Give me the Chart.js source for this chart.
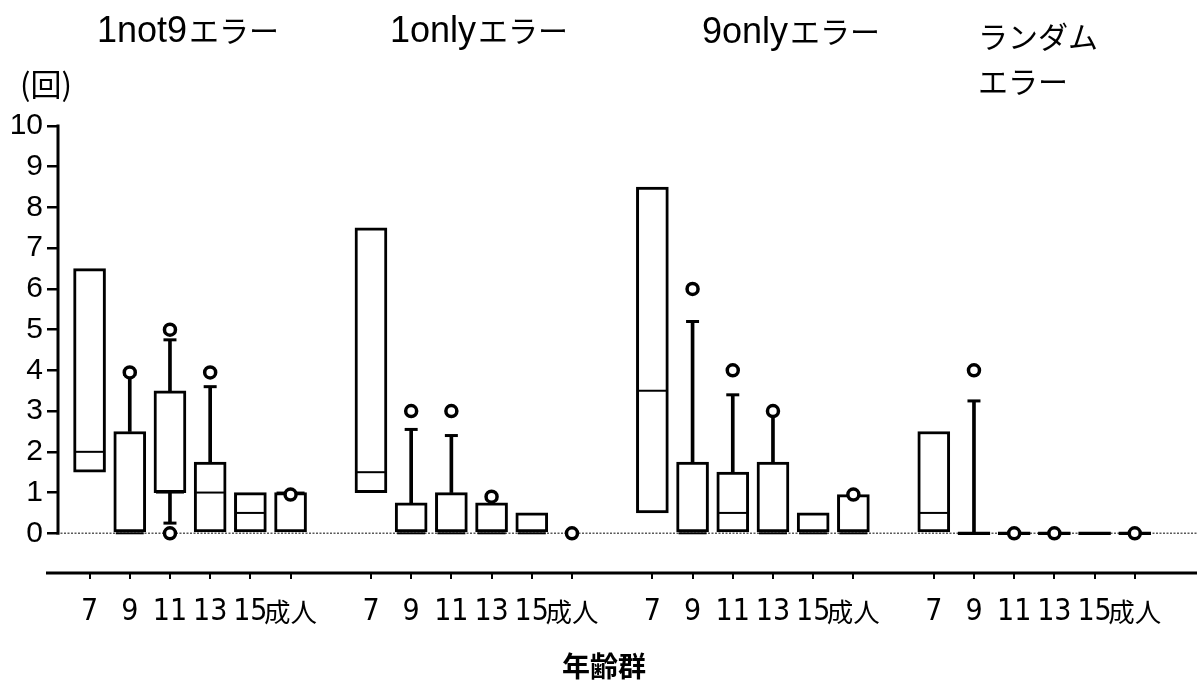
<!DOCTYPE html>
<html lang="ja">
<head>
<meta charset="utf-8">
<script src="https://cdn.jsdelivr.net/npm/chart.js@4"></script>
<style>
  html, body { margin: 0; padding: 0; background: #fff; }
  #wrap { width: 1197px; height: 685px; }
</style>
</head>
<body>
<div id="wrap"><canvas id="c" width="1197" height="685"></canvas></div>
<script>
// Age groups on the category axis (repeated for each error type)
const ageGroups = ['7', '9', '11', '13', '15', '成人'];
// Error types, one panel each (lines of the panel heading)
const errorTypes = [['1not9エラー'], ['1onlyエラー'], ['9onlyエラー'], ['ランダム', 'エラー']];
// Value axis ticks (回)
const yTickValues = [0, 1, 2, 3, 4, 5, 6, 7, 8, 9, 10];

// Box plot statistics, one row per error type, one entry per age group
const q1 = [
  [1.5, 0, 1, 0, 0, 0],
  [1, 0, 0, 0, 0, null],
  [0.5, 0, 0, 0, 0, 0],
  [0, 0, 0, 0, 0, 0]
];
const median = [
  [2, 0, 1, 1, 0.5, 1],
  [1.5, 0, 0, 0, 0, null],
  [3.5, 0, 0.5, 0, 0, 0],
  [0.5, 0, 0, 0, 0, 0]
];
const q3 = [
  [6.5, 2.5, 3.5, 1.75, 1, 1],
  [7.5, 0.75, 1, 0.75, 0.5, null],
  [8.5, 1.75, 1.5, 1.75, 0.5, 0.95],
  [2.5, 0, 0, 0, 0, 0]
];
const whiskerLow = [
  [null, null, 0.25, null, null, null],
  [null, null, null, null, null, null],
  [null, null, null, null, null, null],
  [null, null, null, null, null, null]
];
const whiskerHigh = [
  [null, 3.9, 4.75, 3.6, null, null],
  [null, 2.55, 2.4, null, null, null],
  [null, 5.2, 3.4, 3.0, null, null],
  [null, 3.25, null, null, null, null]
];
const outliers = [
  [[], [3.95], [5, 0], [3.95], [], [0.95]],
  [[], [3], [3], [0.9], [], [0]],
  [[], [6], [4], [3], [], [0.95]],
  [[], [4], [0], [0], [], [0]]
];

// One empty slot separates the panels on the index axis
const slotOf = (g, i) => g * (ageGroups.length + 1) + i;

const boxes = [], whiskers = [], caps = [], medians = [], outlierPts = [];
const tickSlots = [], tickText = {};
errorTypes.forEach((_, g) => {
  ageGroups.forEach((age, i) => {
    const x = slotOf(g, i);
    tickSlots.push(x);
    tickText[x] = age;
    if (q1[g][i] !== null) boxes.push({ x, y: [q1[g][i], q3[g][i]] });
    if (median[g][i] !== null) medians.push({ x, y: median[g][i] });
    if (whiskerHigh[g][i] !== null) {
      whiskers.push({ x, y: [q3[g][i], whiskerHigh[g][i]] });
      caps.push({ x, y: whiskerHigh[g][i] });
    }
    if (whiskerLow[g][i] !== null) {
      whiskers.push({ x, y: [whiskerLow[g][i], q1[g][i]] });
      caps.push({ x, y: whiskerLow[g][i] });
    }
    outliers[g][i].forEach(v => outlierPts.push({ x, y: v }));
  });
});
const lastSlot = slotOf(errorTypes.length - 1, ageGroups.length - 1);

const LATIN = '"Liberation Sans", Arial, sans-serif';
const CJK = '"Noto Sans CJK JP", "Noto Sans CJK SC", sans-serif';

// Pick a condensed face for the age labels if one is installed
const probe = document.createElement('canvas').getContext('2d');
function hasFont(name) {
  probe.font = '40px monospace';
  const base = probe.measureText('1113 15 9').width;
  probe.font = '40px "' + name + '", monospace';
  return probe.measureText('1113 15 9').width !== base;
}
const condensed = ['Liberation Sans Narrow', 'DejaVu Sans Condensed', 'Roboto Condensed', 'Open Sans Condensed']
  .find(hasFont);
const AGE_FONT = condensed
  ? { family: '"' + condensed + '", ' + LATIN, size: 30, lineHeight: '36px' }
  : { family: LATIN, size: 27, lineHeight: '36px' };

// Axis lines, zero baseline and the surrounding labels
const framePlugin = {
  id: 'frame',
  beforeDatasetsDraw(chart) {
    const { ctx, chartArea, scales: { y } } = chart;
    const y0 = y.getPixelForValue(0);
    ctx.save();
    ctx.strokeStyle = '#5a5a5a';
    ctx.lineWidth = 1.4;
    ctx.setLineDash([2, 1.5]);
    ctx.beginPath();
    ctx.moveTo(chartArea.left, y0);
    ctx.lineTo(chart.width, y0);
    ctx.stroke();
    ctx.setLineDash([]);
    ctx.strokeStyle = '#000';
    ctx.lineWidth = 3;
    ctx.beginPath();
    ctx.moveTo(chartArea.left + 1, y.getPixelForValue(yTickValues[yTickValues.length - 1]) - 1.5);
    ctx.lineTo(chartArea.left + 1, y0 + 1.5);
    ctx.stroke();
    ctx.beginPath();
    ctx.moveTo(chartArea.left - 11, chartArea.bottom);
    ctx.lineTo(chart.width, chartArea.bottom);
    ctx.stroke();
    ctx.restore();
  },
  afterDraw(chart) {
    const { ctx } = chart;
    ctx.save();
    ctx.fillStyle = '#000';
    ctx.textBaseline = 'alphabetic';
    ctx.textAlign = 'left';
    const headLeft = [97, 390, 702, 978];
    const headBase = [[42], [42], [43], [48, 93]];
    errorTypes.forEach((lines, g) => {
      lines.forEach((line, k) => {
        const m = line.match(/^([0-9A-Za-z]*)(.*)$/);
        let x = headLeft[g];
        if (m[1]) {
          ctx.font = '36px ' + LATIN;
          ctx.fillText(m[1], x, headBase[g][k]);
          x += ctx.measureText(m[1]).width + 2;
        }
        ctx.font = '30px ' + CJK;
        ctx.fillText(m[2], x, headBase[g][k]);
      });
    });
    // unit of the value axis
    ctx.font = '31px ' + CJK;
    ctx.fillText('(回)', 20, 96);
    // category axis title
    ctx.textAlign = 'center';
    ctx.font = 'bold 28px ' + CJK;
    ctx.fillText('年齢群', 604, 677);
    ctx.restore();
  }
};

Chart.defaults.color = '#000';

new Chart(document.getElementById('c'), {
  type: 'bar',
  data: {
    datasets: [
      {
        label: 'whisker',
        data: whiskers,
        backgroundColor: '#000',
        borderWidth: 0,
        barThickness: 3,
        grouped: false,
        order: 5
      },
      {
        label: 'box',
        data: boxes,
        backgroundColor: '#fff',
        borderColor: '#000',
        borderWidth: 3,
        borderSkipped: false,
        barThickness: 32,
        minBarLength: 3,
        grouped: false,
        order: 4
      },
      {
        type: 'line',
        label: 'median',
        data: medians,
        showLine: false,
        pointStyle: 'line',
        pointRadius: 14,
        pointBorderWidth: 2,
        pointBorderColor: '#000',
        order: 3
      },
      {
        type: 'line',
        label: 'cap',
        data: caps,
        showLine: false,
        pointStyle: 'line',
        pointRadius: 6.5,
        pointBorderWidth: 3,
        pointBorderColor: '#000',
        order: 2
      },
      {
        type: 'line',
        label: 'outlier',
        data: outlierPts,
        showLine: false,
        pointStyle: 'circle',
        pointRadius: 5.5,
        pointBorderWidth: 3.5,
        pointBorderColor: '#000',
        pointBackgroundColor: '#fff',
        order: 1
      }
    ]
  },
  options: {
    responsive: false,
    devicePixelRatio: 1,
    animation: false,
    clip: false,
    layout: { padding: { top: 126, left: 0, right: 0, bottom: 0 } },
    plugins: { legend: { display: false }, tooltip: { enabled: false } },
    scales: {
      x: {
        type: 'linear',
        offset: false,
        min: -0.81,
        max: lastSlot + 1.15,
        afterBuildTicks: s => { s.ticks = tickSlots.map(v => ({ value: v })); },
        afterFit: s => { s.height = 112; },
        border: { display: false },
        grid: { offset: false, drawOnChartArea: false, tickLength: 6, lineWidth: 2, color: '#000' },
        ticks: {
          autoSkip: false,
          maxRotation: 0,
          minRotation: 0,
          padding: 15,
          color: '#000',
          callback: v => tickText[v] ?? '',
          font: c => (c.tick && /\D/.test(tickText[c.tick.value] || ''))
            ? { family: CJK, size: 26.5, lineHeight: '36px' }
            : AGE_FONT
        }
      },
      y: {
        type: 'linear',
        min: -0.975,
        max: 10,
        afterBuildTicks: s => { s.ticks = yTickValues.map(v => ({ value: v })); },
        afterFit: s => { s.width = 57; },
        border: { display: false },
        grid: { drawOnChartArea: false, tickLength: 10, lineWidth: 2.5, color: '#000' },
        ticks: {
          padding: 4,
          color: '#000',
          font: { family: LATIN, size: 30 }
        }
      }
    }
  },
  plugins: [framePlugin]
});
</script>
</body>
</html>
